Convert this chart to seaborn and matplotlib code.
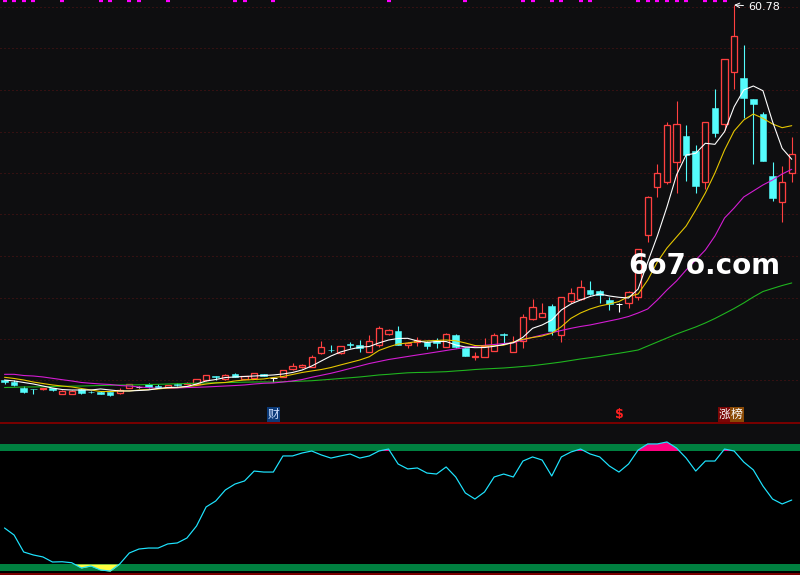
import numpy as np
import matplotlib
matplotlib.use("Agg")
import matplotlib.pyplot as plt
import seaborn as sns

# daily candles (price units), left to right
opens = [13.90, 13.71, 12.90, 12.78, 12.74, 12.90, 12.15, 12.15, 12.74, 12.46,
         12.44, 12.36, 12.24, 12.96, 13.02, 13.40, 13.19, 13.06, 13.36, 13.36,
         13.40, 13.90, 14.40, 14.03, 14.61, 14.03, 14.19, 14.65, 14.19, 14.28,
         15.24, 15.49, 15.56, 17.24, 17.69, 17.24, 18.40, 18.28, 17.44, 18.28,
         19.65, 20.03, 18.28, 18.69, 18.61, 18.78, 18.06, 19.53, 17.86, 16.74,
         16.81, 17.56, 19.65, 17.44, 18.78, 21.49, 21.81, 23.15, 19.53, 23.78,
         24.06, 25.15, 25.03, 23.90, 23.40, 23.56, 24.24, 32.03, 38.06, 38.69,
         41.11, 44.40, 42.53, 38.61, 47.94, 45.90, 52.44, 51.61, 49.03, 47.15,
         39.40, 36.11, 39.74]
closes = [13.59, 13.28, 12.40, 12.74, 12.90, 12.59, 12.53, 12.56, 12.24, 12.40,
          12.19, 12.03, 12.65, 13.34, 13.02, 12.99, 12.96, 13.24, 13.31, 13.56,
          14.03, 14.53, 14.31, 14.53, 14.31, 14.34, 14.78, 14.40, 14.19, 15.15,
          15.65, 15.78, 16.74, 17.99, 17.61, 18.15, 18.33, 17.86, 18.78, 20.36,
          20.15, 18.28, 18.53, 18.90, 18.15, 18.49, 19.65, 17.99, 16.90, 16.96,
          18.15, 19.53, 19.53, 18.69, 21.74, 23.03, 22.24, 20.06, 24.24, 24.74,
          25.49, 24.71, 24.53, 23.40, 23.40, 24.94, 30.24, 36.74, 39.74, 45.78,
          45.90, 42.03, 38.19, 46.11, 44.81, 53.99, 56.90, 49.19, 48.40, 41.31,
          36.69, 38.61, 42.11]
highs = [13.96, 13.90, 13.15, 12.78, 12.96, 12.96, 12.59, 12.65, 12.90, 12.53,
         12.53, 12.40, 12.86, 13.40, 13.21, 13.52, 13.46, 13.28, 13.49, 13.59,
         14.03, 14.53, 14.40, 14.59, 14.81, 14.34, 14.78, 14.71, 14.28, 15.15,
         15.99, 15.84, 17.03, 18.78, 18.28, 18.15, 18.69, 18.90, 19.53, 20.69,
         20.28, 20.65, 18.69, 19.24, 18.78, 19.11, 19.81, 19.59, 17.90, 17.44,
         19.11, 19.81, 19.74, 19.40, 22.15, 24.03, 23.49, 23.34, 24.28, 25.40,
         26.34, 26.28, 25.09, 24.28, 23.53, 25.03, 30.30, 36.90, 40.90, 46.19,
         48.78, 45.78, 43.28, 46.15, 50.28, 54.03, 60.78, 55.78, 49.03, 47.44,
         41.11, 40.65, 44.31]
lows = [13.40, 13.15, 12.28, 12.15, 12.71, 12.53, 12.15, 12.15, 12.21, 12.28,
        12.09, 11.96, 12.21, 12.90, 12.84, 12.90, 12.90, 13.03, 13.21, 13.34,
        13.40, 13.78, 13.96, 13.96, 14.28, 14.03, 14.15, 14.34, 13.69, 14.24,
        15.21, 15.40, 15.53, 17.21, 17.44, 17.21, 17.86, 17.44, 17.40, 17.99,
        19.49, 18.28, 17.86, 18.15, 17.74, 17.86, 18.03, 17.90, 16.84, 16.40,
        16.81, 17.53, 18.49, 17.40, 17.90, 21.40, 21.74, 19.53, 18.69, 23.53,
        23.96, 24.53, 23.56, 22.71, 22.44, 22.90, 23.90, 31.15, 36.74, 38.36,
        37.24, 38.81, 37.31, 37.78, 44.24, 45.15, 50.24, 46.69, 40.90, 41.28,
        36.28, 33.69, 38.69]

# moving averages as shown on the chart
ma5 = [13.90, 13.78, 13.59, 13.40, 13.15, 12.90, 12.71, 12.65, 12.65, 12.65,
       12.78, 12.65, 12.53, 12.53, 12.59, 12.65, 12.84, 12.96, 12.99, 13.09,
       13.40, 13.78, 13.96, 14.21, 14.28, 14.34, 14.40, 14.46, 14.53, 14.65,
       14.84, 15.15, 15.65, 16.28, 16.90, 17.40, 17.74, 17.99, 18.09, 18.53,
       18.90, 19.09, 19.11, 18.78, 18.59, 18.71, 18.71, 18.28, 18.03, 17.94,
       17.96, 18.11, 18.34, 18.56, 19.24, 20.36, 20.78, 21.40, 22.65, 23.40,
       23.90, 24.34, 24.65, 24.40, 24.24, 24.15, 25.28, 28.65, 31.90, 35.53,
       39.53, 42.03, 42.24, 43.49, 43.36, 44.94, 48.06, 50.15, 50.65, 50.06,
       46.19, 42.86, 41.49]
ma10 = [14.24, 14.09, 13.90, 13.65, 13.46, 13.28, 13.15, 13.03, 12.84, 12.65,
        12.46, 12.46, 12.53, 12.53, 12.65, 12.71, 12.78, 12.90, 12.94, 13.09,
        13.21, 13.40, 13.53, 13.59, 13.78, 13.90, 13.96, 14.03, 14.21, 14.34,
        14.59, 14.84, 15.03, 15.21, 15.46, 15.78, 16.09, 16.40, 16.81, 17.59,
        18.03, 18.40, 18.53, 18.71, 18.78, 18.84, 18.90, 18.80, 18.53, 18.21,
        18.15, 18.18, 18.25, 18.65, 18.99, 19.21, 19.40, 19.74, 20.56, 21.61,
        22.28, 22.78, 23.15, 23.40, 23.71, 24.34, 24.65, 26.40, 28.65, 30.40,
        31.78, 33.15, 35.15, 37.28, 39.78, 42.65, 45.03, 46.40, 47.15, 46.61,
        45.90, 45.44, 45.69]
ma20 = [14.61, 14.61, 14.46, 14.40, 14.28, 14.11, 13.94, 13.78, 13.59, 13.49,
        13.40, 13.34, 13.21, 13.15, 13.03, 12.94, 12.86, 12.86, 12.90, 12.96,
        12.99, 13.03, 13.09, 13.15, 13.21, 13.28, 13.40, 13.49, 13.53, 13.65,
        13.78, 13.96, 14.24, 14.49, 14.74, 15.03, 15.34, 15.65, 15.96, 16.21,
        16.46, 16.65, 16.84, 17.03, 17.21, 17.40, 17.59, 17.78, 17.96, 18.09,
        18.24, 18.34, 18.46, 18.56, 18.90, 19.24, 19.53, 19.81, 20.09, 20.36,
        20.59, 20.78, 21.03, 21.28, 21.53, 21.84, 22.28, 22.78, 23.90, 25.15,
        26.28, 27.65, 28.90, 30.15, 31.90, 34.15, 35.40, 36.78, 37.53, 38.28,
        38.90, 39.65, 40.24]
ma60 = [12.96, 12.99, 13.03, 13.03, 13.05, 13.09, 13.11, 13.13, 13.15, 13.18,
        13.21, 13.24, 13.28, 13.28, 13.30, 13.34, 13.36, 13.40, 13.43, 13.46,
        13.50, 13.53, 13.55, 13.58, 13.60, 13.63, 13.65, 13.66, 13.64, 13.68,
        13.72, 13.76, 13.81, 13.90, 13.99, 14.09, 14.18, 14.28, 14.40, 14.53,
        14.61, 14.71, 14.80, 14.84, 14.86, 14.90, 14.94, 15.03, 15.11, 15.21,
        15.28, 15.34, 15.40, 15.49, 15.59, 15.69, 15.84, 15.99, 16.15, 16.34,
        16.53, 16.69, 16.86, 17.06, 17.24, 17.44, 17.65, 18.15, 18.65, 19.15,
        19.65, 20.09, 20.53, 21.03, 21.59, 22.21, 22.84, 23.53, 24.28, 24.96,
        25.34, 25.71, 26.03]

# oscillator in the lower panel
osc = [35.5, 30.5, 18.5, 16.4, 15.0, 11.4, 11.6, 10.9, 7.2, 8.6,
       5.8, 5.0, 10.0, 17.8, 20.6, 21.3, 21.3, 24.2, 24.9, 28.4,
       36.9, 50.4, 54.6, 62.4, 66.6, 68.8, 75.8, 75.1, 75.1, 86.5,
       86.5, 88.6, 90.0, 87.2, 85.0, 86.5, 87.9, 85.0, 86.5, 90.0,
       91.4, 80.8, 77.3, 78.0, 74.4, 73.7, 78.7, 71.6, 60.3, 56.0,
       61.0, 71.6, 73.7, 71.6, 82.9, 85.8, 83.6, 72.3, 85.8, 89.3,
       91.4, 87.9, 85.8, 79.4, 75.1, 80.8, 90.7, 95.0, 95.0, 96.4,
       92.1, 85.0, 75.8, 82.9, 82.9, 91.4, 90.0, 82.2, 76.6, 65.2,
       56.0, 52.5, 55.3]
osc_high, osc_low = 90, 10

# signal marks along the top edge and event tags
signal_days = [0, 1, 2, 3, 6, 10, 11, 13, 14, 17, 24, 25, 28, 40, 48, 54, 55,
               57, 58, 60, 61, 66, 67, 68, 69, 70, 71, 73, 74, 75]
grid_levels = [60.53, 55.34, 50.15, 44.96, 39.78, 34.59, 29.40, 24.21, 19.03, 13.84]

BG = "#0e0e10"
RED = "#ff4040"
CYAN = "#54fcfc"
PX = 0.72  # one pixel in points

sns.set_style("dark", {"axes.facecolor": BG, "figure.facecolor": BG})
plt.rcParams['font.family'] = ['Noto Sans CJK SC', 'DejaVu Sans']

fig = plt.figure(figsize=(8, 5.75), dpi=100)
fig.patch.set_facecolor(BG)
ax = fig.add_axes([0, 1 - 423 / 575, 1, 423 / 575])
ax2 = fig.add_axes([0, 0, 1, 145 / 575])

idx = np.arange(len(opens))
o = np.array(opens)
c = np.array(closes)
up = c > o
down = c < o
flat = c == o
wick_col = np.where(up, RED, np.where(down, CYAN, "white"))

# grid
for g in grid_levels:
    ax.axhline(g, color="#5a1414", lw=PX, ls=(0, (1, 3)), zorder=1)

# candles
ax.vlines(idx, lows, highs, colors=wick_col, lw=PX * 1.1, zorder=2)
ax.bar(idx[up], (c - o)[up], bottom=o[up], width=0.64, facecolor=BG,
       edgecolor=RED, linewidth=PX * 1.3, zorder=3)
ax.bar(idx[down], (c - o)[down], bottom=o[down], width=0.7, facecolor=CYAN,
       edgecolor=CYAN, linewidth=0.4, zorder=3)
ax.hlines(c[flat], idx[flat] - 0.35, idx[flat] + 0.35, colors="white", lw=PX, zorder=3)

# moving averages
for vals, col in [(ma60, "#1fb51f"), (ma20, "#d41cd4"), (ma10, "#e6c700"), (ma5, "#ffffff")]:
    sns.lineplot(x=idx, y=vals, ax=ax, color=col, lw=PX * 1.1, legend=False, zorder=5)

# top signal ticks
ax.plot(signal_days, [61.33] * len(signal_days), ls="none", marker="_",
        markersize=2.6, mew=1.6, color="#ff00ff", clip_on=False, zorder=6)

# high label
top = int(np.argmax(highs))
ax.annotate(f"{highs[top]:.2f}", xy=(top, highs[top]), xytext=(14, -2),
            textcoords="offset pixels", color="white", fontsize=8, va="center",
            ha="left", family="DejaVu Sans",
            arrowprops=dict(arrowstyle="->", color="white", lw=0.7, shrinkA=1, shrinkB=0))

# event tags
tag_y = 9.6
ax.text(28, tag_y, "财", color="#cfe0ff", fontsize=8.5, ha="center", va="center", zorder=7,
        bbox=dict(boxstyle="square,pad=0.08", fc="#0b3a78", ec="none"))
ax.text(64, tag_y, "$", color="#ff2020", fontsize=9, fontweight="bold", ha="center",
        va="center", family="DejaVu Sans", zorder=7)
ax.text(75, tag_y, "涨", color="white", fontsize=8.5, ha="center", va="center", zorder=7,
        bbox=dict(boxstyle="square,pad=0.08", fc="#7a0606", ec="none"))
ax.text(76.3, tag_y, "榜", color="white", fontsize=8.5, ha="center", va="center", zorder=7,
        bbox=dict(boxstyle="square,pad=0.08", fc="#8a4a06", ec="none"))

ax.set_xlim(-0.47, 82.86)
ax.set_ylim(61.4 - 423 / 8, 61.4)
ax.set_xticks([])
ax.set_yticks([])
ax.set_xlabel("")
ax.set_ylabel("")
for s in ["top", "left", "right"]:
    ax.spines[s].set_visible(False)
ax.spines["bottom"].set_color("#7a0000")
ax.spines["bottom"].set_linewidth(1.4)

# lower oscillator panel
v = np.array(osc)
ax2.set_facecolor(BG)
ax2.axhspan(2.2, 94.96, color="black", lw=0, zorder=0)
ax2.axhspan(osc_high, 94.96, color="#008040", lw=0, zorder=1)
ax2.axhspan(5.04, osc_low, color="#008040", lw=0, zorder=1)
ax2.fill_between(idx, osc_high, v, where=v >= osc_high, interpolate=True,
                 color="#ff0080", lw=0, zorder=2)
ax2.fill_between(idx, v, osc_low, where=v <= osc_low, interpolate=True,
                 color="#ffff40", lw=0, zorder=2)
sns.lineplot(x=idx, y=v, ax=ax2, color="#1ee4ff", lw=PX * 1.2, legend=False, zorder=3)
ax2.axhline(2.92, color="#7a0000", lw=1.4, zorder=4)
ax2.set_xlim(-0.47, 82.86)
ax2.set_ylim(2.21, 104.87)
ax2.set_xticks([])
ax2.set_yticks([])
ax2.set_xlabel("")
ax2.set_ylabel("")
for s in ax2.spines.values():
    s.set_visible(False)

fig.text(0.881, 0.537, "6o7o.com", color="white", fontsize=20, fontweight="bold",
         ha="center", va="center", family="DejaVu Sans", zorder=10)

fig.savefig("out.png", dpi=100, facecolor=BG)
